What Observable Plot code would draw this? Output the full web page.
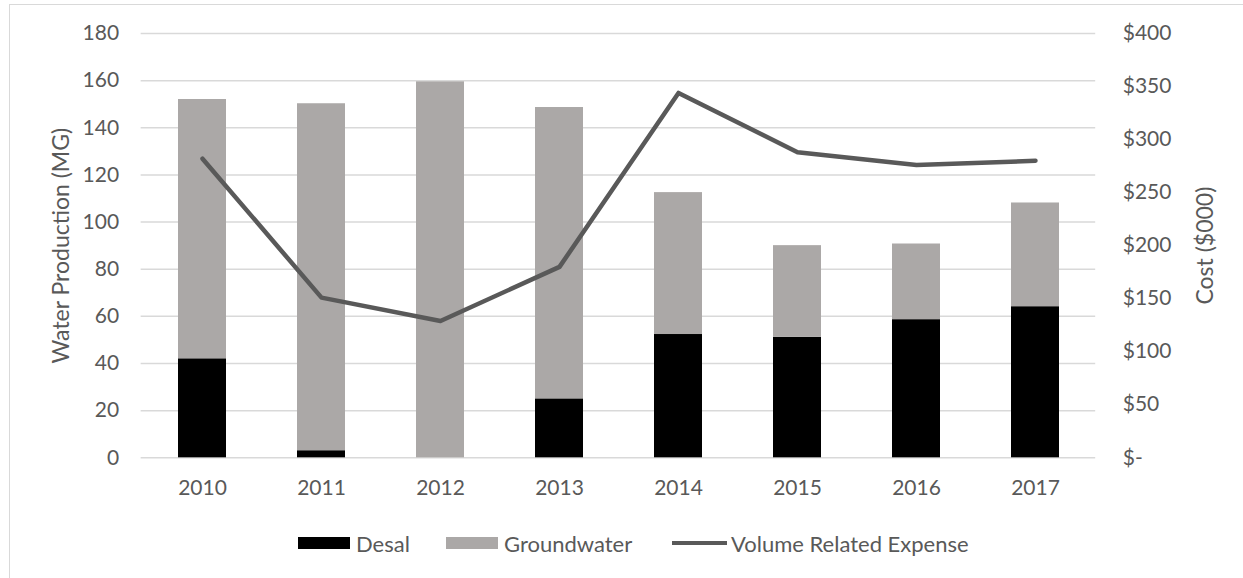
<!DOCTYPE html>
<html>
<head>
<meta charset="utf-8">
<script src="https://cdn.jsdelivr.net/npm/d3@7"></script>
<script src="https://cdn.jsdelivr.net/npm/@observablehq/plot@0.6"></script>
<style>
  html, body { margin: 0; padding: 0; background: #fff; overflow: hidden; }
  body { width: 1243px; height: 578px; position: relative; font-family: Lato, "Open Sans", sans-serif; }
  #frame { position: absolute; left: 9px; top: 4px; width: 1400px; height: 800px; border: 1.5px solid #d9d9d9; box-sizing: border-box; }
  #chart { position: absolute; left: 0; top: 0; }
  #legend { position: absolute; left: 0; top: 529px; width: 1243px; height: 28px; }
  .item { position: absolute; top: 0; height: 28px; display: flex; align-items: center; color: #595959; font-size: 22px; }
  .sw { width: 52px; height: 12px; margin-right: 6px; }
  .ln { width: 55px; height: 4px; margin-right: 4px; background: #595959; }
</style>
</head>
<body>
<div id="frame"></div>
<div id="chart"></div>
<div id="legend"></div>
<script>
// Annual water production (million gallons) by source, and volume-related expense ($000)
const years = ["2010", "2011", "2012", "2013", "2014", "2015", "2016", "2017"];
const desal = [42, 3, 0, 25, 52.3, 51.1, 58.6, 64.1];
const groundwater = [110, 147.2, 159.5, 123.6, 60.2, 38.9, 32.1, 44];
const expense = [282, 151, 129, 180, 344, 288, 276, 280];

const productionTicks = [0, 20, 40, 60, 80, 100, 120, 140, 160, 180];
const costTicks = [0, 50, 100, 150, 200, 250, 300, 350, 400];

const sources = ["Desal", "Groundwater"];
const sourceColors = ["#000000", "#aba8a7"];
const lineColor = "#595959";
const textColor = "#595959";

// cost axis shares the vertical scale: $400 aligns with 180 MG
const costRatio = productionTicks[productionTicks.length - 1] / costTicks[costTicks.length - 1];

const bars = years.flatMap((year, i) => [
  {year, source: "Desal", value: desal[i]},
  {year, source: "Groundwater", value: groundwater[i]}
]);
const costs = years.map((year, i) => ({year, cost: expense[i]}));

const plot = Plot.plot({
  width: 1243,
  height: 520,
  marginTop: 33,
  marginBottom: 62.7,
  marginLeft: 140.65,
  marginRight: 147.8,
  style: {fontFamily: "Lato, 'Open Sans', sans-serif", fontSize: "21px", color: textColor, background: "transparent"},
  x: {domain: years, paddingInner: 0.6, paddingOuter: 0.3},
  y: {domain: [0, 180]},
  color: {domain: sources, range: sourceColors},
  marks: [
    Plot.ruleY(productionTicks, {stroke: "#d9d9d9", strokeWidth: 1.5}),
    Plot.barY(bars, {x: "year", y: "value", fill: "source", order: sources}),
    Plot.lineY(costs, {x: "year", y: d => d.cost * costRatio, stroke: lineColor, strokeWidth: 4.5, strokeLinejoin: "round", strokeLinecap: "round"}),
    Plot.axisX({tickSize: 0, tickPadding: 22, label: null, fill: textColor}),
    Plot.axisY({anchor: "left", ticks: productionTicks, tickSize: 0, tickPadding: 22, label: null, fill: textColor}),
    Plot.axisY({anchor: "right", ticks: costTicks.map(c => c * costRatio), tickSize: 0, tickPadding: 27, label: null, fill: textColor,
      tickFormat: v => { const c = Math.round(v / costRatio); return c === 0 ? "$-" : "$" + c; }}),
    Plot.text(["Water Production (MG)"], {frameAnchor: "left", dx: -80, rotate: -90, fill: textColor, fontSize: 23, textAnchor: "middle"}),
    Plot.text(["Cost ($000)"], {frameAnchor: "right", dx: 110, rotate: -90, fill: textColor, fontSize: 23, textAnchor: "middle"})
  ]
});
document.getElementById("chart").appendChild(plot);

// legend below the chart
const legend = document.getElementById("legend");
const legendItems = [
  {label: "Desal", left: 298, kind: "bar", color: sourceColors[0]},
  {label: "Groundwater", left: 446, kind: "bar", color: sourceColors[1]},
  {label: "Volume Related Expense", left: 672, kind: "line", color: lineColor}
];
for (const it of legendItems) {
  const div = document.createElement("div");
  div.className = "item";
  div.style.left = it.left + "px";
  const sw = document.createElement("span");
  sw.className = it.kind === "bar" ? "sw" : "ln";
  sw.style.background = it.color;
  const tx = document.createElement("span");
  tx.textContent = it.label;
  div.appendChild(sw);
  div.appendChild(tx);
  legend.appendChild(div);
}
</script>
</body>
</html>
